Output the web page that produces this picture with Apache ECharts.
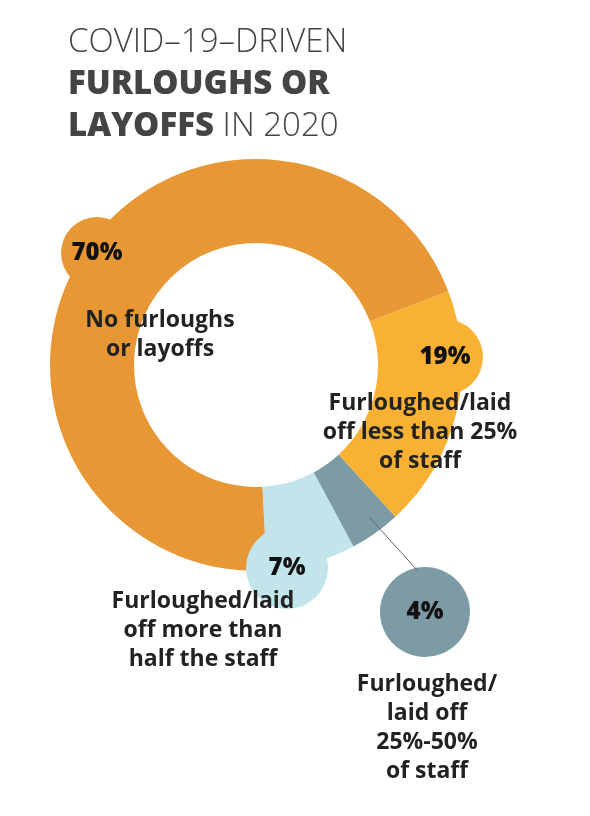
<!DOCTYPE html>
<html><head><meta charset="utf-8">
<script src="https://cdn.jsdelivr.net/npm/echarts@6/dist/echarts.min.js"></script>
<style>html,body{margin:0;background:#fff}#main{width:590px;height:816px}</style>
</head><body><div id="main"></div>
<script>
var categories = ['Furloughed/laid\noff less than 25%\nof staff', 'Furloughed/\nlaid off\n25%-50%\nof staff', 'Furloughed/laid\noff more than\nhalf the staff', 'No furloughs\nor layoffs'];
var values = [19, 4, 7, 70];
var colors = ['#F8B133', '#7C9BA5', '#C2E4EB', '#E89735'];
// bubble positions / label positions (layout only)
var bubbles = [[445, 357, 38], [425, 612, 45], [287, 568, 41], [97, 253, 36]];
var textPos = [[420, 432], [427, 728], [203, 630], [160, 335]];

var myChart = echarts.init(document.getElementById('main'));
var font = '"Open Sans", sans-serif';
var graphic = [];
values.forEach(function (v, i) {
  var b = bubbles[i];
  if (i == 1) {
    graphic.push({type: 'line', shape: {x1: 370, y1: 518, x2: b[0] - 8, y2: b[1] - 42}, style: {stroke: '#666', lineWidth: 1}, z: 5});
  }
  graphic.push({type: 'circle', shape: {cx: b[0], cy: b[1], r: b[2]}, style: {fill: colors[i]}, z: 4});
  graphic.push({type: 'text', x: b[0], y: b[1], style: {text: v + '%', fill: '#111', font: '800 24px ' + font, align: 'center', verticalAlign: 'middle'}, z: 6});
  graphic.push({type: 'text', x: textPos[i][0], y: textPos[i][1], style: {text: categories[i], fill: '#222', font: 'bold 23px ' + font, align: 'center', verticalAlign: 'middle', lineHeight: 29}, z: 6});
});
graphic.push({type: 'text', left: 68, top: 26, style: {
  text: '{l|COVID–19–DRIVEN}\n{b|FURLOUGHS OR}\n{b|LAYOFFS}{l| IN 2020}',
  rich: {
    l: {font: '300 33px ' + font, fill: '#444', lineHeight: 42},
    b: {font: '800 33px ' + font, fill: '#444', lineHeight: 42}
  }
}});

var option = {
  animation: false,
  graphic: graphic,
  series: [{
    type: 'pie',
    center: [256, 365],
    radius: [122, 206],
    startAngle: 21,
    clockwise: true,
    label: {show: false},
    itemStyle: {borderWidth: 0},
    data: values.map(function (v, i) {
      return {value: v, name: categories[i], itemStyle: {color: colors[i]}};
    })
  }]
};
myChart.setOption(option);
</script></body></html>
